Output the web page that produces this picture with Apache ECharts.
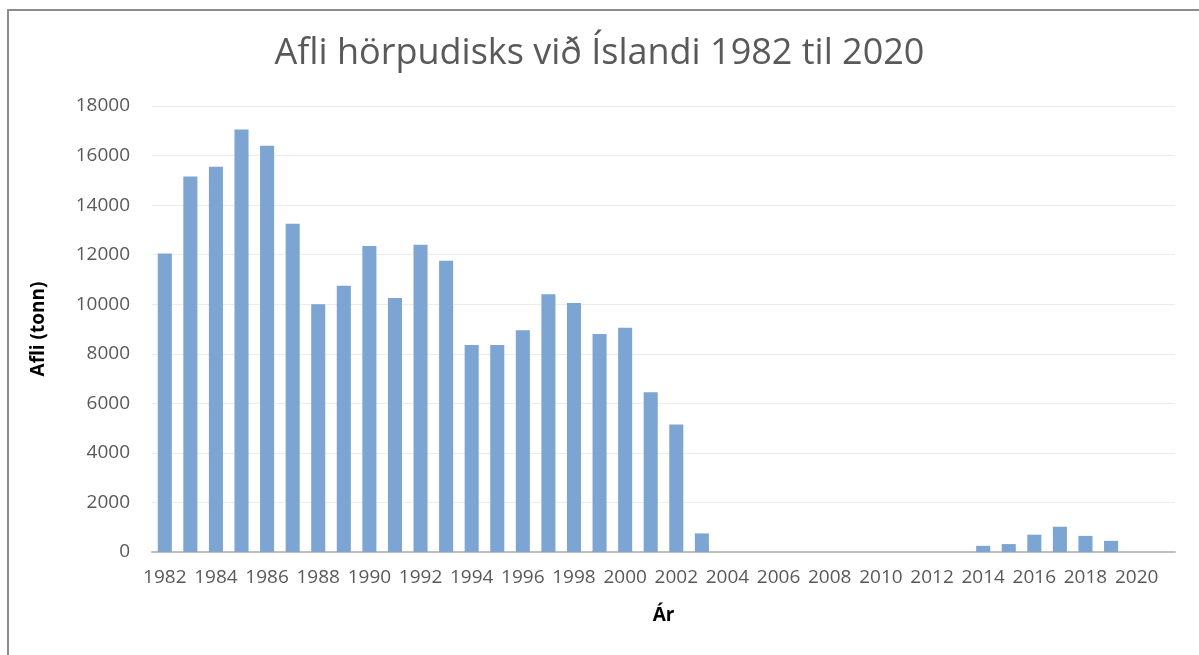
<!DOCTYPE html>
<html>
<head>
<meta charset="utf-8">
<script src="https://cdn.jsdelivr.net/npm/echarts@6/dist/echarts.min.js"></script>
<style>
  html, body { margin: 0; padding: 0; background: #fff; }
  #chart { width: 1199px; height: 655px; }
</style>
</head>
<body>
<div id="chart"></div>
<script>
// years shown on the category axis (the last slot has no label, like the original)
const years = [
  '1982', '1983', '1984', '1985', '1986', '1987', '1988', '1989', '1990', '1991',
  '1992', '1993', '1994', '1995', '1996', '1997', '1998', '1999', '2000', '2001',
  '2002', '2003', '2004', '2005', '2006', '2007', '2008', '2009', '2010', '2011',
  '2012', '2013', '2014', '2015', '2016', '2017', '2018', '2019', '2020', '2021',
];

// catch in tonnes
const catchTonnes = [
  12050, 15150, 15550, 17050, 16400, 13250, 10000, 10750, 12350, 10250,
  12400, 11750, 8350, 8350, 8950, 10400, 10050, 8800, 9050, 6450,
  5150, 750, 0, 0, 0, 0, 0, 0, 0, 0,
  0, 0, 250, 320, 700, 1020, 650, 450, 0, 0,
];

const yTicks = { min: 0, max: 18000, interval: 2000 };

const titleText = 'Afli hörpudisks við Íslandi 1982 til 2020';
const xName = 'Ár';
const yName = 'Afli (tonn)';

const chart = echarts.init(document.getElementById('chart'));
const font = '"Open Sans", sans-serif';

chart.setOption({
  animation: false,
  backgroundColor: '#fff',
  graphic: [
    {
      type: 'rect',
      shape: { x: 8, y: 10, width: 1400, height: 1000 },
      style: { fill: 'none', stroke: '#8c8c8c', lineWidth: 2 },
      silent: true,
    },
  ],
  title: {
    text: titleText,
    left: 'center',
    top: 31,
    textStyle: {
      fontFamily: font,
      fontSize: 36,
      fontWeight: 'normal',
      color: '#595959',
    },
  },
  grid: {
    left: 152,
    right: 24,
    top: 106,
    bottom: 103,
  },
  xAxis: {
    type: 'category',
    data: years,
    name: xName,
    nameLocation: 'middle',
    nameGap: 54,
    nameTextStyle: {
      fontFamily: font,
      fontSize: 19,
      fontWeight: 'bold',
      color: '#000',
    },
    axisLine: { lineStyle: { color: '#bfbfbf', width: 2 } },
    axisTick: { show: false },
    axisLabel: {
      interval: 1,
      margin: 16,
      fontFamily: font,
      fontSize: 19,
      color: '#595959',
    },
  },
  yAxis: {
    type: 'value',
    min: yTicks.min,
    max: yTicks.max,
    interval: yTicks.interval,
    name: yName,
    nameLocation: 'middle',
    nameGap: 104,
    nameTextStyle: {
      fontFamily: font,
      fontSize: 19,
      fontWeight: 'bold',
      color: '#000',
    },
    axisLine: { show: false },
    axisTick: { show: false },
    axisLabel: {
      margin: 22,
      fontFamily: font,
      fontSize: 19,
      color: '#595959',
      formatter: (v) => String(v),
    },
    splitLine: { lineStyle: { color: '#ececec', width: 1 } },
  },
  series: [
    {
      type: 'bar',
      data: catchTonnes,
      barCategoryGap: '45%',
      itemStyle: { color: '#7da5d3' },
    },
  ],
});
</script>
</body>
</html>
